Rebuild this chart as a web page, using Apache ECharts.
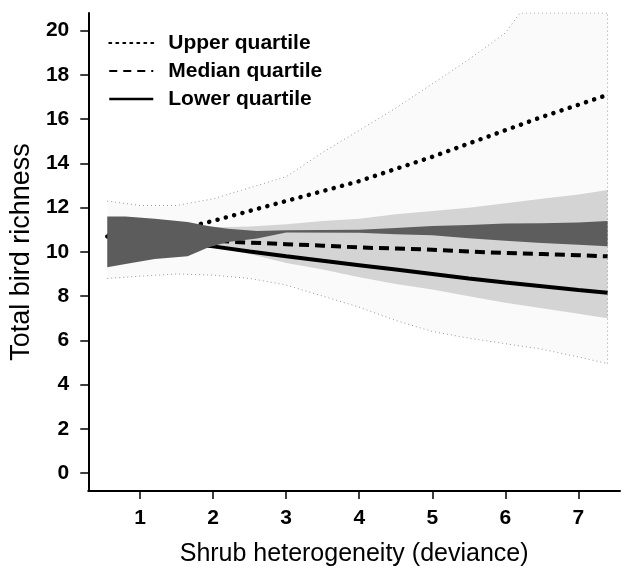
<!DOCTYPE html>
<html>
<head>
<meta charset="utf-8">
<script src="https://cdn.jsdelivr.net/npm/echarts@6/dist/echarts.min.js"></script>
<style>
html,body{margin:0;padding:0;background:#fff;}
#chart{width:621px;height:572px;}
</style>
</head>
<body>
<div id="chart"></div>
<script>
// ---- data ----
const xTicks = [1, 2, 3, 4, 5, 6, 7];
const yTicks = [0, 2, 4, 6, 8, 10, 12, 14, 16, 18, 20];

const lineX   = [0.55, 1, 1.5, 2, 2.5, 3, 3.5, 4, 4.5, 5, 5.5, 6, 6.5, 7, 7.4];
const upperQ  = [10.7, 10.8, 11.0, 11.4, 11.85, 12.3, 12.75, 13.2, 13.75, 14.3, 14.9, 15.5, 16.1, 16.65, 17.1];
const medianQ = [10.7, 10.65, 10.55, 10.5, 10.42, 10.35, 10.28, 10.2, 10.15, 10.1, 10.02, 9.95, 9.9, 9.85, 9.8];
const lowerQ  = [10.75, 10.6, 10.42, 10.25, 10.02, 9.8, 9.6, 9.4, 9.2, 9.0, 8.8, 8.62, 8.45, 8.28, 8.15];

// credible band of the upper quartile (faint)
const outerX  = [0.55, 1, 1.5, 2, 2.5, 3, 3.5, 4, 4.5, 5, 5.5, 6, 6.2, 6.5, 7, 7.4];
const outerHi = [12.3, 12.1, 12.1, 12.4, 12.9, 13.4, 14.5, 15.5, 16.5, 17.6, 18.7, 19.9, 20.8, 20.8, 20.8, 20.8];
const outerLo = [8.8, 8.9, 9.0, 8.95, 8.8, 8.5, 8.0, 7.5, 6.9, 6.4, 6.1, 5.85, 5.75, 5.6, 5.25, 4.95];

// speckled band around the median / lower lines
const midX  = [1.9, 2.5, 3, 3.5, 4, 4.5, 5, 5.5, 6, 6.5, 7, 7.4];
const midLo = [10.3, 9.9, 9.5, 9.2, 8.85, 8.55, 8.3, 8.0, 7.7, 7.45, 7.2, 7.0];
const midHi = [11.1, 11.15, 11.25, 11.4, 11.5, 11.7, 11.85, 12.0, 12.2, 12.4, 12.6, 12.8];

// dark band on the left
const darkLX  = [0.55, 0.8, 1.2, 1.65, 1.93, 2.2, 2.6];
const darkLLo = [9.3, 9.45, 9.68, 9.8, 10.2, 10.45, 10.6];
const darkLHi = [11.6, 11.6, 11.5, 11.35, 11.17, 11.05, 10.95];

// dark band on the right
const darkRX  = [2.6, 3, 4, 4.5, 5, 5.5, 6, 6.5, 7, 7.4];
const darkRLo = [10.6, 10.88, 10.86, 10.8, 10.75, 10.62, 10.5, 10.4, 10.32, 10.25];
const darkRHi = [10.95, 10.98, 11.0, 11.08, 11.17, 11.22, 11.28, 11.3, 11.33, 11.4];

// ---- build options ----
const FONT = 'Liberation Sans, Arial, sans-serif';
const pairs = (xs, ys) => xs.map((x, i) => [x, ys[i]]);

// a band drawn as one polygon through the axes' own scales
function band(id, xs, lo, hi, fill, z) {
  return {
    name: id, type: 'custom', z: z, silent: true, animation: false,
    data: xs.map((x, i) => [x, lo[i], hi[i]]),
    encode: {x: 0, y: [1, 2]},
    renderItem: function (params, api) {
      if (params.dataIndex !== 0) return null;
      const pts = [];
      for (let i = 0; i < xs.length; i++) pts.push(api.coord([xs[i], hi[i]]));
      for (let i = xs.length - 1; i >= 0; i--) pts.push(api.coord([xs[i], lo[i]]));
      return {type: 'polygon', shape: {points: pts}, style: {fill: fill, stroke: null}};
    }
  };
}

function edge(id, xs, ys) {
  return {name: id, type: 'line', data: pairs(xs, ys), symbol: 'none', z: 2, silent: true,
    lineStyle: {color: 'rgba(0,0,0,0.4)', width: 1, type: [1, 3]}, animation: false};
}

const n = outerX.length - 1;
const series = [
  band('outer', outerX, outerLo, outerHi, 'rgba(0,0,0,0.02)', 1),
  edge('outerHiEdge', outerX, outerHi),
  edge('outerLoEdge', outerX, outerLo),
  edge('outerEndEdge', [outerX[n], outerX[n]], [outerLo[n], outerHi[n]]),
  band('mid', midX, midLo, midHi, 'rgba(0,0,0,0.15)', 2),
  band('darkR', darkRX, darkRLo, darkRHi, 'rgba(20,20,20,0.62)', 3),
  {name: 'Upper quartile', type: 'line', data: pairs(lineX, upperQ), symbol: 'none', z: 5,
   itemStyle: {color: '#000'},
   lineStyle: {color: '#000', width: 4.5, type: [0.1, 8.5], cap: 'round'}, animation: false},
  {name: 'Median quartile', type: 'line', data: pairs(lineX, medianQ), symbol: 'none', z: 5,
   itemStyle: {color: '#000'},
   lineStyle: {color: '#000', width: 4, type: [10, 6]}, animation: false},
  {name: 'Lower quartile', type: 'line', data: pairs(lineX, lowerQ), symbol: 'none', z: 5,
   itemStyle: {color: '#000'},
   lineStyle: {color: '#000', width: 4}, animation: false},
  band('darkL', darkLX, darkLLo, darkLHi, '#5c5c5c', 6)
];

const chart = echarts.init(document.getElementById('chart'), null, {renderer: 'canvas'});
chart.setOption({
  backgroundColor: '#fff',
  animation: false,
  textStyle: {fontFamily: FONT},
  grid: {left: 86, right: 1, top: 13, bottom: 79},
  legend: {
    orient: 'vertical', left: 103, top: 27, itemWidth: 44, itemHeight: 14, itemGap: 6,
    selectedMode: false,
    textStyle: {fontSize: 21, fontWeight: 'bold', color: '#000', fontFamily: FONT, lineHeight: 22, padding: [0, 0, 0, 10]},
    data: [
      {name: 'Upper quartile', itemStyle: {opacity: 0}, lineStyle: {width: 2, type: [2, 5], color: '#000'}},
      {name: 'Median quartile', itemStyle: {opacity: 0}, lineStyle: {width: 2, type: [8, 6], color: '#000'}},
      {name: 'Lower quartile', itemStyle: {opacity: 0}, lineStyle: {width: 2.5, color: '#000'}}
    ]
  },
  xAxis: {
    type: 'value', min: 0.29, max: 7.57,
    name: 'Shrub heterogeneity (deviance)', nameLocation: 'middle', nameGap: 51,
    nameTextStyle: {fontSize: 25, color: '#000', fontFamily: FONT},
    axisLine: {show: true, onZero: false, lineStyle: {color: '#000', width: 2}},
    axisTick: {show: true, inside: false, length: 8, customValues: xTicks, lineStyle: {color: '#000', width: 1.5}},
    axisLabel: {customValues: xTicks, fontSize: 21, fontWeight: 'bold', color: '#000', margin: 17, fontFamily: FONT},
    splitLine: {show: false}
  },
  yAxis: {
    type: 'value', min: -0.81, max: 20.8,
    name: 'Total bird richness', nameLocation: 'middle', nameGap: 52,
    nameTextStyle: {fontSize: 27, color: '#000', fontFamily: FONT},
    axisLine: {show: true, onZero: false, lineStyle: {color: '#000', width: 2}},
    axisTick: {show: true, inside: false, length: 8, customValues: yTicks, lineStyle: {color: '#000', width: 1.5}},
    axisLabel: {customValues: yTicks, fontSize: 21, fontWeight: 'bold', color: '#000', margin: 19, fontFamily: FONT},
    splitLine: {show: false}
  },
  series: series
});
</script>
</body>
</html>
